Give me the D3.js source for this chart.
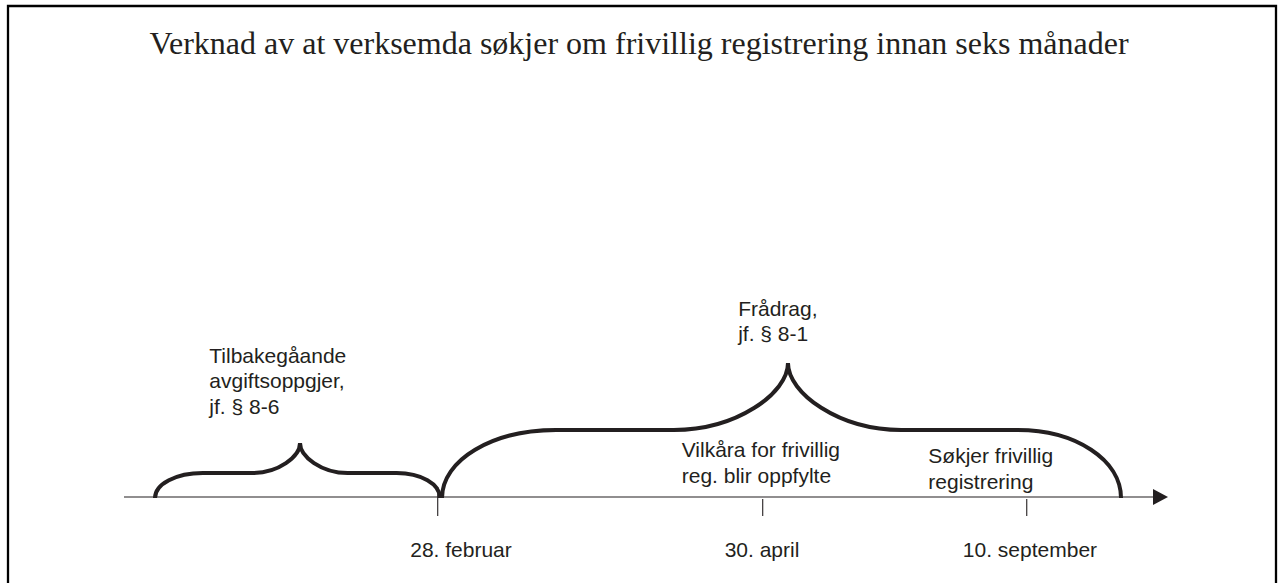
<!DOCTYPE html>
<html>
<head>
<meta charset="utf-8">
<script src="https://cdn.jsdelivr.net/npm/d3@7"></script>
<style>
  html, body { margin: 0; padding: 0; background: #fff; }
  svg { display: block; }
</style>
</head>
<body>
<svg id="chart" width="1283" height="583"></svg>
<script>
// ---- data (schematic timeline units 0..100) ----
const titleText = "Verknad av at verksemda søkjer om frivillig registrering innan seks månader";
const tickLabels = ["28. februar", "30. april", "10. september"];
const tickPos = [30.05, 61.18, 86.47];
const tickLabelPos = [32.28, 61.11, 86.78];
const braceStart = [2.97, 30.46];
const braceEnd = [30.27, 95.5];
const braceTip = [16.86, 63.6];
const braceLabels = [["Tilbakegåande", "avgiftsoppgjer,", "jf. § 8-6"], ["Frådrag,", "jf. § 8-1"]];
const braceLabelPos = [8.17, 58.83];
const eventLabels = [["Vilkåra for frivillig", "reg. blir oppfylte"], ["Søkjer frivillig", "registrering"]];
const eventLabelPos = [53.42, 77.04];

// ---- layout ----
const svg = d3.select("#chart");
const ink = "#231f20";
const x = d3.scaleLinear().domain([0, 100]).range([124, 1168]);
const axisY = 497;

// frame (open at bottom)
svg.append("path")
  .attr("d", "M8,583 L8,6 L1276,6 L1276,583")
  .attr("fill", "none").attr("stroke", "#000").attr("stroke-width", 2.3);

// title
svg.append("text")
  .attr("x", 639).attr("y", 54)
  .attr("text-anchor", "middle")
  .attr("font-family", "'Liberation Serif', 'Times New Roman', serif")
  .attr("font-size", 32)
  .attr("fill", ink)
  .text(titleText);

// axis line + arrow
svg.append("line")
  .attr("x1", x(0)).attr("x2", x(100) - 14)
  .attr("y1", axisY).attr("y2", axisY)
  .attr("stroke", ink).attr("stroke-width", 1.1);
svg.append("path")
  .attr("d", `M${x(100)},${axisY} L${x(100) - 15},${axisY - 8} L${x(100) - 15},${axisY + 8} Z`)
  .attr("fill", ink);

// ticks
svg.selectAll("line.tick").data(tickPos).join("line")
  .attr("class", "tick")
  .attr("x1", d => x(d)).attr("x2", d => x(d))
  .attr("y1", (d, i) => i === 0 ? axisY - 10 : axisY + 2)
  .attr("y2", axisY + 19)
  .attr("stroke", ink).attr("stroke-width", 1.1);

const sans = "'Liberation Sans', Arial, sans-serif";
svg.selectAll("text.tl").data(tickLabels).join("text")
  .attr("class", "tl")
  .attr("x", (d, i) => x(tickLabelPos[i]))
  .attr("y", 557)
  .attr("text-anchor", "middle")
  .attr("font-family", sans).attr("font-size", 21).attr("fill", ink)
  .text(d => d);

// braces
const braceDims = [{h: 55, hf: 25}, {h: 135, hf: 68}];
function bracePath(s, e, t, h, hf) {
  const x0 = x(s), x1 = x(e), xt = x(t);
  const y0 = axisY + 1, yf = y0 - hf, yt = y0 - h, hi = yf - yt;
  const wl = xt - x0, wr = x1 - xt;
  const aL = wl * 0.33, bL = wl * 0.33, aR = wr * 0.31, bR = wr * 0.34;
  const k = 0.56;
  return [
    `M${x0},${y0}`,
    `C${x0},${y0 - hf * k} ${x0 + aL * (1 - k)},${yf} ${x0 + aL},${yf}`,
    `L${xt - bL},${yf}`,
    `C${xt - bL * 0.45},${yf} ${xt},${yt + hi * 0.45} ${xt},${yt}`,
    `C${xt},${yt + hi * 0.45} ${xt + bR * 0.45},${yf} ${xt + bR},${yf}`,
    `L${x1 - aR},${yf}`,
    `C${x1 - aR * (1 - k)},${yf} ${x1},${y0 - hf * k} ${x1},${y0}`
  ].join(" ");
}
svg.selectAll("path.brace").data(braceStart).join("path")
  .attr("class", "brace")
  .attr("d", (d, i) => bracePath(d, braceEnd[i], braceTip[i], braceDims[i].h, braceDims[i].hf))
  .attr("fill", "none").attr("stroke", ink).attr("stroke-width", 4)
  .attr("stroke-linejoin", "miter").attr("stroke-linecap", "butt");

// multi-line labels
function multiLabel(lines, px, firstBaseline, lh) {
  const t = svg.append("text")
    .attr("font-family", sans).attr("font-size", 21).attr("fill", ink);
  lines.forEach((ln, j) => {
    t.append("tspan").attr("x", x(px)).attr("y", firstBaseline + j * lh).text(ln);
  });
}
const braceLabelBase = [362.7, 315.7];
braceLabels.forEach((lines, i) => multiLabel(lines, braceLabelPos[i], braceLabelBase[i], i === 0 ? 25.7 : 25));
const eventLabelBase = [457.3, 463.3];
eventLabels.forEach((lines, i) => multiLabel(lines, eventLabelPos[i], eventLabelBase[i], 25.5));
</script>
</body>
</html>
